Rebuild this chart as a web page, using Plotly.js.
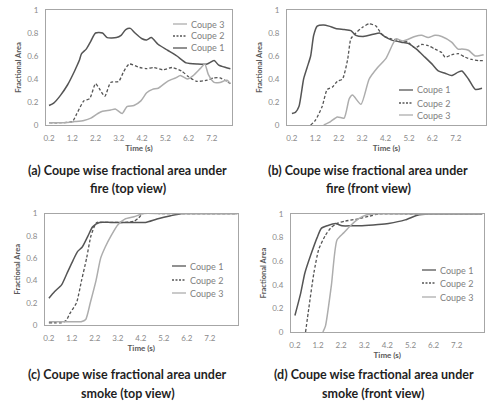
<!DOCTYPE html>
<html><head><meta charset="utf-8">
<script src="https://cdn.plot.ly/plotly-3.0.1.min.js"></script>
<style>html,body{margin:0;padding:0;background:#fff;} #chart{width:493px;height:414px;}</style>
</head><body><div id="chart"></div>
<script>
// ---------- data ----------
const seriesNames = ['Coupe 1', 'Coupe 2', 'Coupe 3'];
const xTickVals = [0.2, 1.2, 2.2, 3.2, 4.2, 5.2, 6.2, 7.2];
const xTickText = ['0.2', '1.2', '2.2', '3.2', '4.2', '5.2', '6.2', '7.2'];
const yTickVals = [0, 0.2, 0.4, 0.6, 0.8, 1];
const yTickText = ['0', '0.2', '0.4', '0.6', '0.8', '1'];
const xTitle = 'Time (s)';
const yTitle = 'Fractional Area';
const captionsLine1 = ['(a) Coupe wise fractional area under', '(b) Coupe wise fractional area under',
                       '(c) Coupe wise fractional area under', '(d) Coupe wise fractional area under'];
const captionsLine2 = ['fire (top view)', 'fire (front view)', 'smoke (top view)', 'smoke (front view)'];

// (a) fire, top view
const aC1t = [0.2,0.4,0.7,1.0,1.3,1.5,1.6,1.8,2.0,2.2,2.5,2.7,3.1,3.3,3.5,3.7,3.9,4.2,4.4,4.6,4.9,5.3,5.7,6.1,6.6,7.0,7.3,7.5,7.8,8.0];
const aC1v = [0.17,0.19,0.26,0.35,0.47,0.56,0.62,0.66,0.73,0.80,0.80,0.76,0.76,0.78,0.83,0.84,0.80,0.75,0.74,0.76,0.70,0.65,0.60,0.54,0.53,0.53,0.56,0.52,0.50,0.49];
const aC2t = [0.2,0.7,1.2,1.4,1.7,1.95,2.2,2.35,2.6,2.85,3.2,3.4,3.65,4.1,4.4,4.7,5.1,5.5,5.9,6.2,6.55,7.0,7.3,7.55,7.85,8.0];
const aC2v = [0.02,0.02,0.03,0.10,0.21,0.23,0.36,0.32,0.25,0.37,0.38,0.46,0.53,0.50,0.49,0.50,0.48,0.50,0.47,0.42,0.38,0.39,0.41,0.41,0.38,0.36];
const aC3t = [0.2,0.8,1.3,1.7,2.0,2.3,2.5,2.85,3.05,3.35,3.55,3.85,4.15,4.4,4.65,4.9,5.3,5.65,5.85,6.15,6.4,6.7,6.9,7.05,7.3,7.55,7.85,8.0];
const aC3v = [0.02,0.02,0.03,0.04,0.06,0.10,0.12,0.13,0.14,0.10,0.16,0.17,0.21,0.28,0.31,0.32,0.38,0.41,0.43,0.40,0.43,0.49,0.53,0.44,0.37,0.37,0.39,0.36];

// (b) fire, front view
const bC1t = [0.2,0.35,0.5,0.7,0.85,1.0,1.13,1.28,1.56,1.78,2.07,2.43,2.72,2.93,3.22,3.5,3.94,4.15,4.44,4.87,5.16,5.52,5.88,6.23,6.45,6.74,7.02,7.3,7.46,7.74,8.03,8.32];
const bC1v = [0.10,0.11,0.16,0.40,0.50,0.60,0.78,0.86,0.87,0.86,0.84,0.83,0.82,0.78,0.77,0.78,0.80,0.77,0.74,0.72,0.71,0.66,0.59,0.52,0.47,0.45,0.43,0.46,0.47,0.40,0.31,0.32];
const bC2t = [1.0,1.2,1.49,1.71,1.93,2.14,2.36,2.58,2.72,2.93,3.22,3.5,3.79,4.0,4.15,4.44,4.87,5.16,5.45,5.74,6.02,6.31,6.6,6.74,7.02,7.31,7.6,7.88,8.17,8.39];
const bC2v = [0,0.04,0.16,0.31,0.33,0.38,0.40,0.57,0.75,0.80,0.85,0.88,0.86,0.80,0.77,0.75,0.73,0.72,0.67,0.70,0.69,0.66,0.63,0.59,0.61,0.62,0.59,0.57,0.56,0.56];
const bC3t = [1.56,1.85,2.14,2.43,2.65,2.79,3.15,3.5,3.86,4.22,4.5,4.65,4.94,5.45,5.74,6.02,6.31,6.6,7.02,7.3,7.46,7.74,8.03,8.39];
const bC3v = [0,0.03,0.07,0.06,0.23,0.26,0.18,0.40,0.50,0.58,0.70,0.75,0.73,0.77,0.78,0.76,0.78,0.77,0.72,0.66,0.66,0.65,0.60,0.61];

// (c) smoke, top view
const cC1t = [0.2,0.45,0.75,1.0,1.25,1.45,1.65,1.9,2.1,2.4,2.9,3.4,3.9,4.4,4.9,5.5,6.0,6.5,7.0,7.5,8.0,8.4];
const cC1v = [0.24,0.30,0.36,0.47,0.58,0.66,0.70,0.80,0.88,0.92,0.92,0.92,0.92,0.92,0.95,0.98,1.0,1.0,1.0,1.0,1.0,1.0];
const cC2t = [0.2,0.5,0.73,0.95,1.1,1.4,1.62,1.84,2.03,2.28,2.6,3.0,3.5,3.9,4.1,4.3,5.0,6.0,7.0,8.0,8.4];
const cC2v = [0.02,0.02,0.02,0.04,0.10,0.20,0.40,0.60,0.80,0.92,0.92,0.92,0.92,0.93,0.96,1.0,1.0,1.0,1.0,1.0,1.0];
const cC3t = [0.2,0.8,1.3,1.6,1.8,2.0,2.25,2.45,2.65,2.9,3.2,3.5,3.9,4.3,5.0,6.0,7.0,8.0,8.4];
const cC3v = [0.03,0.03,0.03,0.03,0.05,0.20,0.40,0.60,0.70,0.80,0.90,0.95,0.97,1.0,1.0,1.0,1.0,1.0,1.0];

// (d) smoke, front view
const dC1t = [0.2,0.45,0.63,0.88,1.16,1.35,1.59,1.95,2.24,2.7,3.1,3.8,4.25,4.97,5.5,6.0,6.7,7.5,8.3];
const dC1v = [0.14,0.33,0.50,0.65,0.80,0.88,0.90,0.92,0.90,0.90,0.90,0.91,0.92,0.95,0.99,1.0,1.0,1.0,1.0];
const dC2t = [0.66,0.8,1.02,1.23,1.52,1.74,2.02,2.38,2.96,3.39,3.82,5.0,6.0,7.0,8.0,8.3];
const dC2v = [0,0.20,0.50,0.70,0.82,0.88,0.92,0.94,0.96,0.98,1.0,1.0,1.0,1.0,1.0,1.0];
const dC3t = [1.41,1.52,1.78,2.02,2.31,2.6,2.96,3.25,3.53,5.0,6.0,7.0,8.0,8.3];
const dC3v = [0,0.05,0.40,0.78,0.84,0.90,0.96,0.99,1.0,1.0,1.0,1.0,1.0,1.0];

// ---------- layout helpers ----------
const W = 493, H = 414;
const px = v => v / W;
const py = v => 1 - v / H;
const FONT = 'Lato, "Open Sans", sans-serif';

const panels = [
  {box: [46, 232, 10, 125],    range: [0.07, 8.07], series: [[aC1t, aC1v], [aC2t, aC2v], [aC3t, aC3v]],
   legend: {x: 173, y: [48, 36, 24]}, cap: [127.5, 170, 188]},
  {box: [287, 486, 10, 125],   range: [-0.01, 8.49], series: [[bC1t, bC1v], [bC2t, bC2v], [bC3t, bC3v]],
   legend: {x: 399, y: [90, 103, 115]}, cap: [368, 170, 188]},
  {box: [45, 237.5, 213.5, 325], range: [0.03, 8.4], series: [[cC1t, cC1v], [cC2t, cC2v], [cC3t, cC3v]],
   legend: {x: 172, y: [266, 280, 293]}, cap: [127.5, 374, 393]},
  {box: [291, 483.5, 214, 332], range: [0.03, 8.36], series: [[dC1t, dC1v], [dC2t, dC2v], [dC3t, dC3v]],
   legend: {x: 422, y: [270, 283, 297]}, cap: [373.5, 374, 393]}
];

const lineStyles = [
  {color: '#555555', width: 1.5, dash: 'solid'},
  {color: '#555555', width: 1.3, dash: '3px,2px'},
  {color: '#adadad', width: 1.5, dash: 'solid'}
];

const traces = [];
const layout = {
  width: W, height: H, margin: {l: 0, r: 0, t: 0, b: 0},
  paper_bgcolor: '#fff', plot_bgcolor: '#fff', showlegend: false,
  font: {family: FONT, color: '#808080', size: 8},
  shapes: [], annotations: []
};

panels.forEach((p, i) => {
  const n = i === 0 ? '' : String(i + 1);
  const xa = 'xaxis' + n, ya = 'yaxis' + n;
  layout[xa] = {
    domain: [px(p.box[0]), px(p.box[1])], anchor: 'y' + n, range: p.range,
    tickvals: xTickVals, ticktext: xTickText, showgrid: false, zeroline: false,
    showline: true, mirror: true, linecolor: '#a6a6a6', linewidth: 1, ticks: '',
    ticklabelstandoff: 5, tickfont: {family: FONT, size: 8, color: '#8a8a8a'},
    title: {text: xTitle, standoff: 3, font: {family: FONT, size: 8, color: '#595959', weight: 'bold'}}
  };
  layout[ya] = {
    domain: [py(p.box[3]), py(p.box[2])], anchor: 'x' + n, range: [0, 1],
    tickvals: yTickVals, ticktext: yTickText, showgrid: false, zeroline: false,
    showline: true, mirror: true, linecolor: '#a6a6a6', linewidth: 1, ticks: '',
    ticklabelstandoff: 5, tickfont: {family: FONT, size: 8, color: '#8a8a8a'},
    title: {text: yTitle, standoff: 4, font: {family: FONT, size: 7.5, color: '#595959', weight: 'bold'}}
  };
  p.series.forEach((s, k) => {
    traces.push({
      type: 'scatter', mode: 'lines', x: s[0], y: s[1], name: seriesNames[k],
      xaxis: 'x' + n, yaxis: 'y' + n, showlegend: false,
      line: {color: lineStyles[k].color, width: lineStyles[k].width, dash: lineStyles[k].dash, shape: 'spline', smoothing: 0.6}
    });
    // manual compact legend entry
    layout.shapes.push({
      type: 'line', xref: 'paper', yref: 'paper',
      x0: px(p.legend.x), x1: px(p.legend.x + 14), y0: py(p.legend.y[k]), y1: py(p.legend.y[k]),
      line: {color: lineStyles[k].color, width: 1.3, dash: k === 1 ? '2px,1.5px' : 'solid'}
    });
    layout.annotations.push({
      xref: 'paper', yref: 'paper', x: px(p.legend.x + 16), y: py(p.legend.y[k]),
      xanchor: 'left', yanchor: 'middle', showarrow: false, text: seriesNames[k],
      font: {family: FONT, size: 9, color: '#808080'}
    });
  });
  layout.annotations.push({
    xref: 'paper', yref: 'paper', x: px(p.cap[0]), y: py(p.cap[1]), xanchor: 'center', yanchor: 'middle',
    showarrow: false, text: '<b>' + captionsLine1[i] + '</b>', font: {family: FONT, size: 12.5, color: '#1f1f1f'}
  });
  layout.annotations.push({
    xref: 'paper', yref: 'paper', x: px(p.cap[0]), y: py(p.cap[2]), xanchor: 'center', yanchor: 'middle',
    showarrow: false, text: '<b>' + captionsLine2[i] + '</b>', font: {family: FONT, size: 12.5, color: '#1f1f1f'}
  });
});

Plotly.newPlot('chart', traces, layout, {staticPlot: true, displayModeBar: false});
</script></body></html>
